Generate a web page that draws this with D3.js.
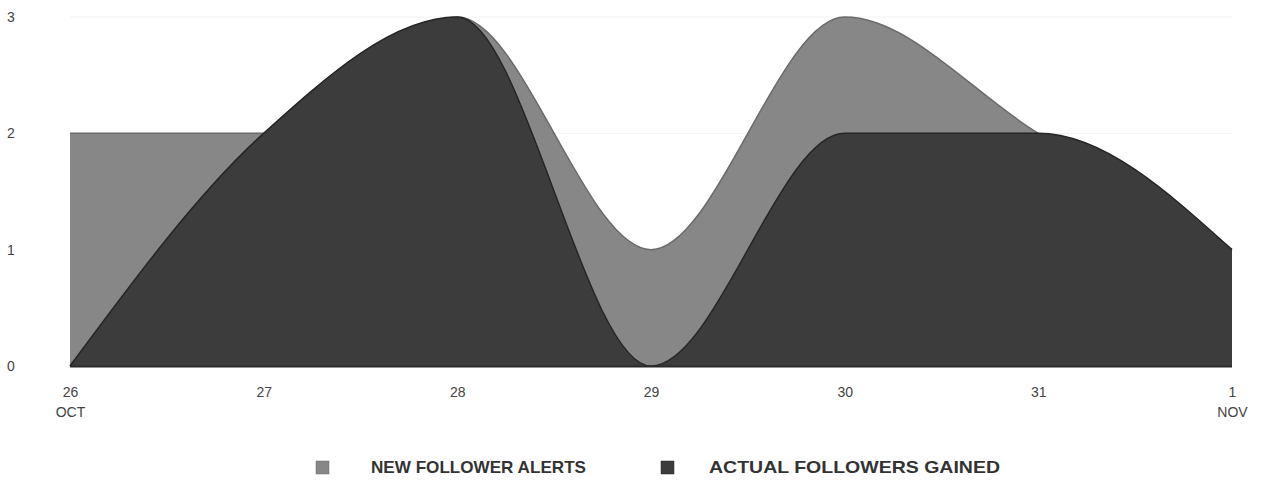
<!DOCTYPE html>
<html><head><meta charset="utf-8">
<script src="https://cdn.jsdelivr.net/npm/d3@7"></script>
<style>body{margin:0;background:#fff;}svg{display:block;font-family:"Liberation Sans",Arial,sans-serif;}</style>
</head><body>
<svg id="c" width="1261" height="480"></svg>
<script>
const days = ["26","27","28","29","30","31","1"];
const months = ["OCT","","","","","","NOV"];
const newFollowerAlerts = [2,2,3,1,3,2,1];
const actualFollowersGained = [0,2,3,0,2,2,1];
const yTicks = [0,1,2,3];
const seriesNames = ["NEW FOLLOWER ALERTS","ACTUAL FOLLOWERS GAINED"];

const svg = d3.select("#c");
const x = d3.scalePoint().domain(d3.range(days.length)).range([70,1232]);
const y = d3.scaleLinear().domain([0,3]).range([366,17]);
const FONT = "Liberation Sans, Arial, sans-serif";

// grid
svg.append("g").selectAll("line").data(yTicks.slice(1)).join("line")
  .attr("x1",70).attr("x2",1232).attr("y1",d=>y(d)).attr("y2",d=>y(d))
  .attr("stroke","#f2f2f2").attr("stroke-width",1);

const area = d3.area().x((d,i)=>x(i)).y0(y(0)).y1(d=>y(d)).curve(d3.curveMonotoneX);
const line = d3.line().x((d,i)=>x(i)).y(d=>y(d)).curve(d3.curveMonotoneX);
const colors = ["#878787","#3c3c3c"];
const strokes = ["#6a6a6a","#262626"];
[newFollowerAlerts, actualFollowersGained].forEach((s,k)=>{
  svg.append("path").datum(s).attr("d",area).attr("fill",colors[k]);
  svg.append("path").datum(s).attr("d",line).attr("fill","none").attr("stroke",strokes[k]).attr("stroke-width",1.5);
});
svg.append("line").attr("x1",70).attr("x2",1232).attr("y1",y(0)+0.5).attr("y2",y(0)+0.5).attr("stroke","#2a2a2a").attr("stroke-width",2);

// y axis
const ya = svg.append("g").attr("transform","translate(11,0)").call(d3.axisLeft(y).tickValues(yTicks).tickFormat(d3.format("d")).tickSize(0));
ya.select(".domain").remove();
ya.selectAll("text").attr("x",0).attr("text-anchor","middle").attr("fill","#444").style("font-size","14px").style("font-family",FONT);

// x axis
const xa = svg.append("g").attr("transform",`translate(0,${y(0)})`).call(d3.axisBottom(x).tickFormat(i=>days[i]).tickSize(0));
xa.select(".domain").remove();
xa.selectAll("text").attr("y",21).attr("fill","#444").style("font-size","14px").style("font-family",FONT);
xa.selectAll(".tick").append("text").text(i=>months[i]).attr("y",51).attr("fill","#444").attr("text-anchor","middle")
  .style("font-size","14px").style("font-family",FONT);

// legend
const leg = [{sx:316,tx:371,w:215},{sx:661,tx:709,w:291}];
leg.forEach((l,k)=>{
  svg.append("rect").attr("x",l.sx).attr("y",461).attr("width",13).attr("height",13).attr("fill",colors[k]).attr("stroke",strokes[k]).attr("stroke-width",0.5);
  svg.append("text").attr("x",l.tx).attr("y",473).text(seriesNames[k]).attr("fill","#333")
    .attr("textLength",l.w).attr("lengthAdjust","spacingAndGlyphs")
    .style("font-size","17px").style("font-weight","bold").style("font-family",FONT);
});
</script>
</body></html>
